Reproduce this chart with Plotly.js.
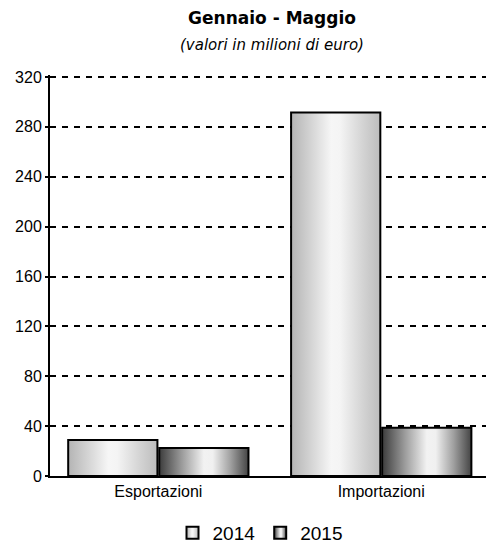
<!DOCTYPE html>
<html>
<head>
<meta charset="utf-8">
<script src="https://cdn.plot.ly/plotly-3.0.1.min.js"></script>
<style>
  html, body { margin: 0; padding: 0; background: #fff; }
  #chart { width: 486px; height: 543px; }
</style>
</head>
<body>
<div id="chart"></div>
<script>
// ---- data ----
const categories = ["Esportazioni", "Importazioni"];
const series2014 = [28.9, 291.6];
const series2015 = [22.5, 38.7];
const seriesNames = ["2014", "2015"];
const yTicks = [0, 40, 80, 120, 160, 200, 240, 280, 320];

const traces = [
  {
    type: "bar", name: seriesNames[0], x: categories, y: series2014,
    marker: { color: "#e0e0e0", line: { color: "#000", width: 2 } },
    hoverinfo: "none"
  },
  {
    type: "bar", name: seriesNames[1], x: categories, y: series2015,
    marker: { color: "#909090", line: { color: "#000", width: 2 } },
    hoverinfo: "none"
  }
];

const layout = {
  width: 486, height: 543,
  margin: { l: 50, r: 0, t: 75, b: 67 },
  paper_bgcolor: "#fff", plot_bgcolor: "#fff",
  font: { family: "Liberation Sans, Arial, sans-serif", color: "#000" },
  title: {
    text: "<b>Gennaio - Maggio</b>",
    font: { family: "DejaVu Sans, Verdana, sans-serif", size: 17, color: "#000" },
    xref: "container", x: 272 / 486, xanchor: "center",
    yref: "container", y: 1 - 18 / 543, yanchor: "middle"
  },
  annotations: [{
    text: "<i>(valori in milioni di euro)</i>",
    xref: "paper", x: (272 - 50) / 436, xanchor: "center",
    yref: "paper", y: (476 - 45) / 401, yanchor: "middle",
    showarrow: false,
    font: { family: "DejaVu Sans, Verdana, sans-serif", size: 15, color: "#000" }
  }],
  barmode: "group",
  bargap: 0.183,
  bargroupgap: 0.02,
  xaxis: {
    type: "category",
    range: [-0.486, 1.470],
    showline: true, linecolor: "#000", linewidth: 2,
    ticks: "", showgrid: false, zeroline: false,
    tickfont: { size: 16, color: "#000" }
  },
  yaxis: {
    range: [0, 321.6],
    tickvals: yTicks, ticktext: yTicks.map(String),
    showline: true, linecolor: "#000", linewidth: 2,
    ticks: "outside", ticklen: 3, tickwidth: 2, tickcolor: "#000",
    showgrid: true, gridcolor: "#000", gridwidth: 2, griddash: "6px,6px",
    zeroline: false,
    tickfont: { size: 16, color: "#000" }
  },
  showlegend: true,
  legend: {
    orientation: "h",
    xref: "paper", x: 0.5 - 8 / 436, xanchor: "center",
    yref: "container", y: (543 - 533) / 543, yanchor: "middle",
    font: { size: 19, color: "#000" },
    bgcolor: "rgba(0,0,0,0)"
  }
};

function addGradients(gd) {
  const svg = gd.querySelector("svg.main-svg");
  if (!svg) return;
  const NS = "http://www.w3.org/2000/svg";
  let defs = svg.querySelector("defs");
  if (!defs) { defs = document.createElementNS(NS, "defs"); svg.insertBefore(defs, svg.firstChild); }
  const grads = {
    g2014: [[0, "#b4b4b4"], [0.25, "#d8d8d8"], [0.45, "#f6f6f6"], [0.55, "#f4f4f4"], [0.8, "#d4d4d4"], [1, "#bcbcbc"]],
    g2015: [[0, "#3c3c3c"], [0.25, "#9a9a9a"], [0.5, "#f2f2f2"], [0.6, "#f0f0f0"], [0.8, "#a0a0a0"], [1, "#444444"]]
  };
  Object.keys(grads).forEach(id => {
    if (defs.querySelector("#" + id)) return;
    const lg = document.createElementNS(NS, "linearGradient");
    lg.setAttribute("id", id);
    lg.setAttribute("x1", "0"); lg.setAttribute("y1", "0");
    lg.setAttribute("x2", "1"); lg.setAttribute("y2", "0");
    grads[id].forEach(([o, c]) => {
      const s = document.createElementNS(NS, "stop");
      s.setAttribute("offset", o); s.setAttribute("stop-color", c);
      lg.appendChild(s);
    });
    defs.appendChild(lg);
  });
  const ids = ["g2014", "g2015"];
  gd.querySelectorAll(".barlayer .trace.bars").forEach((tr, i) => {
    tr.querySelectorAll(".point path").forEach(p => { p.style.fill = "url(#" + ids[i] + ")"; });
  });
  gd.querySelectorAll(".legend .traces").forEach((tr, i) => {
    tr.querySelectorAll(".legendpoints path").forEach(p => { p.style.fill = "url(#" + ids[i] + ")"; });
  });
}

const gd = document.getElementById("chart");
Plotly.newPlot(gd, traces, layout, { staticPlot: true, displayModeBar: false }).then(() => {
  addGradients(gd);
  gd.on("plotly_afterplot", () => addGradients(gd));
});
</script>
</body>
</html>
